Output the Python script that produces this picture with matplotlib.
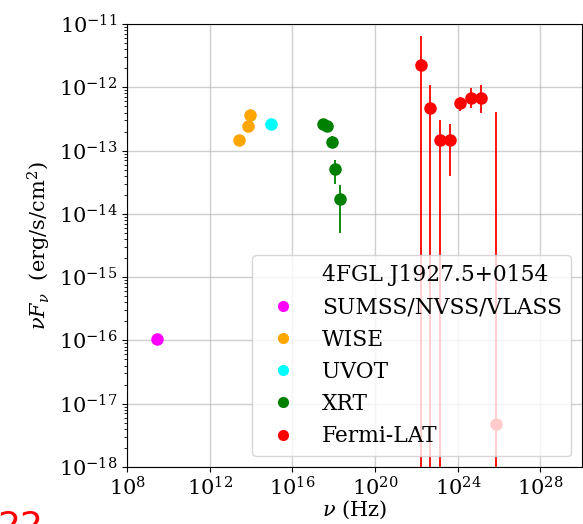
#!/usr/bin/env python3
"""
SED plot of 4FGL J1927.5+0154 (radio, WISE, UVOT, XRT, Fermi-LAT points)
"""

import matplotlib
matplotlib.use('Agg')
import matplotlib.pyplot as plt
from matplotlib.lines import Line2D

plt.rcParams['font.family'] = 'serif'
plt.rcParams['mathtext.fontset'] = 'dejavuserif'

source_name = '4FGL J1927.5+0154'

# radio
radio_nu = [2.8e9]
radio_flux = [1.05e-16]

# WISE
wise_nu = [8.7e13, 6.8e13, 2.6e13]
wise_flux = [3.6e-13, 2.45e-13, 1.48e-13]

# UVOT
uvot_nu = [8.7e14]
uvot_flux = [2.6e-13]

# XRT (flux, upper end, lower end of error bar)
xrt_nu = [3.0e17, 4.5e17, 8.0e17, 1.2e18, 2.0e18]
xrt_flux = [2.6e-13, 2.45e-13, 1.38e-13, 5.1e-14, 1.74e-14]
xrt_hi = [2.6e-13, 2.45e-13, 1.7e-13, 7.1e-14, 2.9e-14]
xrt_lo = [2.6e-13, 2.45e-13, 1.1e-13, 2.95e-14, 5.0e-15]

# Fermi-LAT (lower end 1e-30 means the bar runs off the bottom)
fermi_nu = [1.74e22, 4.4e22, 1.32e23, 4.2e23, 1.32e24, 4.2e24, 1.35e25, 7.2e25]
fermi_flux = [2.28e-12, 4.8e-13, 1.48e-13, 1.48e-13, 5.6e-13, 6.9e-13, 6.9e-13, 4.8e-18]
fermi_hi = [6.6e-12, 1.07e-12, 3.1e-13, 2.6e-13, 7.1e-13, 9.6e-13, 1.09e-12, 4.1e-13]
fermi_lo = [1e-30, 1e-30, 1e-30, 3.9e-14, 4.3e-13, 4.8e-13, 4.0e-13, 1e-30]


def asym_err(flux, hi, lo):
    return [[f - l for f, l in zip(flux, lo)], [h - f for f, h in zip(flux, hi)]]


fig = plt.figure(figsize=(5.83, 5.24), dpi=100)
ax = fig.add_axes([0.218, 0.109, 0.780, 0.845])

ms = 8
ax.plot(radio_nu, radio_flux, 'o', color='magenta', ms=ms, zorder=3)
ax.plot(wise_nu, wise_flux, 'o', color='orange', ms=ms, zorder=3)
ax.plot(uvot_nu, uvot_flux, 'o', color='cyan', ms=ms, zorder=3)
ax.errorbar(xrt_nu, xrt_flux, yerr=asym_err(xrt_flux, xrt_hi, xrt_lo),
            fmt='o', color='green', ms=ms, elinewidth=1.3, zorder=3)
ax.errorbar(fermi_nu, fermi_flux, yerr=asym_err(fermi_flux, fermi_hi, fermi_lo),
            fmt='o', color='red', ms=ms, elinewidth=1.3, zorder=3)

ax.set_xscale('log')
ax.set_yscale('log')
ax.set_xlim(1e8, 1e30)
ax.set_ylim(1e-18, 1e-11)
ax.set_xticks([1e8, 1e12, 1e16, 1e20, 1e24, 1e28])
ax.grid(True, which='major', color='#b0b0b0', alpha=0.6, lw=1)
ax.tick_params(labelsize=15)

ax.set_xlabel(r'$\nu$ (Hz)', fontsize=15, labelpad=-1)
ax.set_ylabel(r'$\nu F_\nu$  (erg/s/cm$^2$)', fontsize=15)

handles = [Line2D([], [], ls='none', marker=None, label=source_name)]
for c, lab in [('magenta', 'SUMSS/NVSS/VLASS'), ('orange', 'WISE'), ('cyan', 'UVOT'),
               ('green', 'XRT'), ('red', 'Fermi-LAT')]:
    handles.append(Line2D([], [], ls='none', marker='o', color=c, ms=7, label=lab))
ax.legend(handles=handles, loc='lower right', fontsize=15.7, labelspacing=0.47,
          borderpad=0.4)

# leftover label from the neighbouring panel, cut by the figure edge
fig.text(-0.005, -0.025, '22', color='red', fontsize=26, family='sans-serif')

fig.savefig('out.png', dpi=100)
